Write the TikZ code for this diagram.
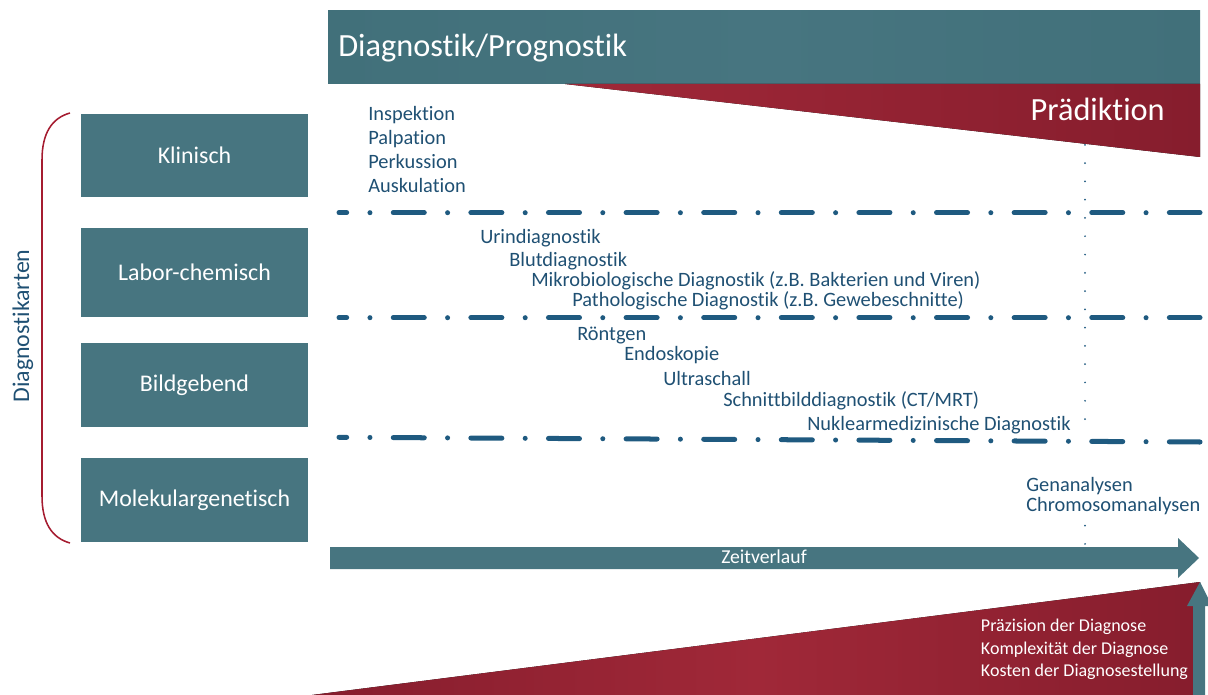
\documentclass[tikz,border=0pt]{standalone}
\usepackage{fontspec}
\setmainfont{Carlito}[Ligatures=NoCommon]
\usepackage{xcolor}
\usepackage{tikz}

\definecolor{tealbar}{HTML}{477580}
\definecolor{tealdark}{HTML}{41707A}
\definecolor{redlight}{HTML}{A02838}
\definecolor{reddark}{HTML}{861D2D}
\definecolor{textblue}{HTML}{1F5073}
\definecolor{lineblue}{HTML}{1F5A80}
\definecolor{bracered}{HTML}{A51C30}

\tikzset{
	box/.style={fill=tealbar, text=white, inner sep=0pt, minimum width=5.675cm, font=\fontsize{17pt}{20pt}\selectfont},
	bluetext/.style={text=textblue, inner sep=0pt, anchor=base west, font=\fontsize{14.5pt}{17pt}\selectfont},
	whitetext/.style={text=white, inner sep=0pt, anchor=base west, font=\fontsize{12.8pt}{15pt}\selectfont},
	dashdot/.style={lineblue, line width=3.56pt, line cap=round, dash pattern=on 22.05pt off 16.57pt on 0pt off 16.57pt, dash phase=16.6pt},
	dotline/.style={lineblue, line width=1.4pt, line cap=round, dash pattern=on 0pt off 13pt}
}

\begin{document}
\begin{tikzpicture}[x=0.025cm, y=-0.025cm]
	\useasboundingbox (0,0) rectangle (1208,695);
	\draw[dotline] (1085,90) -- (1085,437);
	\draw[dotline] (1085,525.7) -- (1085,548);
	\fill[left color=tealdark, right color=tealdark, middle color=tealbar] (328,11) rectangle (1200,84);
	\fill[left color=redlight, right color=reddark] (565,84) -- (1200,84) -- (1200,157) -- cycle;
	\node[text=white, inner sep=0pt, anchor=base west, font=\fontsize{23pt}{28pt}\selectfont] (title) at (338,56.7) {Diagnostik/Prognostik};
	\node[text=white, inner sep=0pt, anchor=base east, font=\fontsize{23pt}{28pt}\selectfont] (praed) at (1165,120.7) {Prädiktion};
	\node[box, minimum height=2.075cm] (klin) at (194.5,155.5) {Klinisch};
	\node[box, minimum height=2.225cm] (labor) at (194.5,272.5) {Labor-chemisch};
	\node[box, minimum height=2.1cm] (bild) at (194.5,385) {Bildgebend};
	\node[box, minimum height=2.1cm] (molek) at (194.5,500) {Molekulargenetisch};
	\draw[bracered, line width=1.1pt] (70,113) .. controls (52,118) and (42,133) .. (42,160) -- (42,496) .. controls (42,523) and (52,538) .. (70,543);
	\node[text=textblue, inner sep=0pt, anchor=base, rotate=90, font=\fontsize{17pt}{20pt}\selectfont] (karten) at (29,326) {Diagnostikarten};
	\node[bluetext] (inspekt) at (368,120.7) {Inspektion};
	\node[bluetext] (palp) at (368,145) {Palpation};
	\node[bluetext] (perk) at (368,169) {Perkussion};
	\node[bluetext] (ausk) at (368,193) {Auskulation};
	\draw[dashdot] (339,212.7) -- (1200,212.7);
	\node[bluetext] (urin) at (480,243) {Urindiagnostik};
	\node[bluetext] (blut) at (509,266) {Blutdiagnostik};
	\node[bluetext] (mikro) at (531,286.7) {Mikrobiologische Diagnostik (z.B. Bakterien und Viren)};
	\node[bluetext] (patho) at (572,306.7) {Pathologische Diagnostik (z.B. Gewebeschnitte)};
	\draw[dashdot] (339,317.7) -- (1200,317.7);
	\node[bluetext] (roent) at (577,340) {Röntgen};
	\node[bluetext] (endo) at (624,360.7) {Endoskopie};
	\node[bluetext] (ultra) at (663,385) {Ultraschall};
	\node[bluetext] (schnitt) at (723,406) {Schnittbilddiagnostik (CT/MRT)};
	\node[bluetext] (nuklear) at (807,430) {Nuklearmedizinische Diagnostik};
	\draw[dashdot] (339,437.3) -- (1200,442);
	\node[bluetext] (gen) at (1026,491.7) {Genanalysen};
	\node[bluetext] (chromo) at (1026,511.7) {Chromosomanalysen};
	\fill[tealbar] (330,547) -- (1178,547) -- (1178,538) -- (1199,558) -- (1178,578) -- (1178,569) -- (330,569) -- cycle;
	\node[text=white, inner sep=0pt, anchor=base, font=\fontsize{14pt}{17pt}\selectfont] (zeit) at (764,563) {Zeitverlauf};
	\fill[left color=reddark, right color=reddark, middle color=redlight] (312,695) -- (1200,582) -- (1200,695) -- cycle;
	\fill[tealbar] (1193,695) -- (1193,606) -- (1187,606) -- (1200,582) -- (1212,606) -- (1205,606) -- (1205,695) -- cycle;
	\node[whitetext] (praez) at (980.7,631.7) {Präzision der Diagnose};
	\node[whitetext] (komplex) at (980.7,654) {Komplexität der Diagnose};
	\node[whitetext] (kosten) at (980.7,676.7) {Kosten der Diagnosestellung};
\end{tikzpicture}
\end{document}
